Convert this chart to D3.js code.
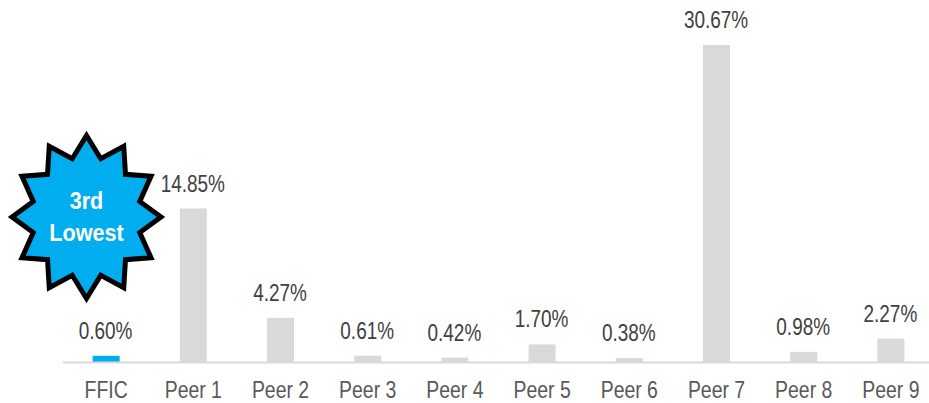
<!DOCTYPE html>
<html>
<head>
<meta charset="utf-8">
<script src="https://cdn.jsdelivr.net/npm/d3@7"></script>
<style>
  html, body { margin: 0; padding: 0; background: #fff; }
  svg { display: block; }
  text { font-family: "Liberation Sans", Arial, sans-serif; }
</style>
</head>
<body>
<svg id="chart" width="929" height="403"></svg>
<script>
const categories = ["FFIC", "Peer 1", "Peer 2", "Peer 3", "Peer 4", "Peer 5", "Peer 6", "Peer 7", "Peer 8", "Peer 9"];
const values = [0.60, 14.85, 4.27, 0.61, 0.42, 1.70, 0.38, 30.67, 0.98, 2.27];
const badgeLines = ["3rd", "Lowest"];

const svg = d3.select("#chart");
const baseline = 362;

const x = d3.scaleBand()
  .domain(categories)
  .range([62.5, 934.5])
  .paddingInner(0.69)
  .paddingOuter(0.345);

const y = d3.scaleLinear()
  .domain([0, 30.67])
  .range([baseline, 45]);

const center = (d) => x(d) + x.bandwidth() / 2;

// squeezed type, the reference text is narrower than plain Arial
function squeezedText(sel, squeeze, cx, cy) {
  sel.attr("text-anchor", "middle")
    .attr("transform", (d, i) => `translate(${cx(d, i)},${cy(d, i)}) scale(${squeeze},1)`);
}

svg.selectAll("rect.bar")
  .data(categories)
  .join("rect")
  .attr("class", "bar")
  .attr("x", (d) => x(d))
  .attr("width", x.bandwidth())
  .attr("y", (d, i) => y(values[i]))
  .attr("height", (d, i) => baseline - y(values[i]))
  .attr("fill", (d, i) => (i === 0 ? "#00aeef" : "#d9d9d9"));

svg.append("line")
  .attr("x1", 63)
  .attr("x2", 929)
  .attr("y1", baseline + 0.5)
  .attr("y2", baseline + 0.5)
  .attr("stroke", "#d9d9d9")
  .attr("stroke-width", 2);

svg.selectAll("text.value")
  .data(values)
  .join("text")
  .attr("class", "value")
  .attr("font-size", 24)
  .attr("fill", "#404040")
  .text((d) => d.toFixed(2) + "%")
  .call(squeezedText, 0.79, (d, i) => center(categories[i]) - 0.5, (d) => y(d) - 17);

svg.selectAll("text.category")
  .data(categories)
  .join("text")
  .attr("class", "category")
  .attr("font-size", 24)
  .attr("fill", "#595959")
  .text((d) => d)
  .call(squeezedText, 0.81, (d) => center(d), () => 398);

// badge
const points = 12;
const starX = 86.5;
const starY = 217;
const star = [];
for (let i = 0; i < points * 2; i++) {
  const a = -Math.PI / 2 + (i * Math.PI) / points;
  const k = i % 2 === 0 ? 1 : 0.74;
  star.push([starX + Math.cos(a) * 74.5 * k, starY + Math.sin(a) * 81.5 * k]);
}

svg.append("path")
  .attr("d", d3.line()(star) + "Z")
  .attr("fill", "#00aeef")
  .attr("stroke", "#000")
  .attr("stroke-width", 5)
  .attr("stroke-linejoin", "miter")
  .attr("stroke-miterlimit", 10);

svg.selectAll("text.badge")
  .data(badgeLines)
  .join("text")
  .attr("class", "badge")
  .attr("font-size", 24)
  .attr("font-weight", "bold")
  .attr("fill", "#fff")
  .text((d) => d)
  .call(squeezedText, 0.9, () => starX, (d, i) => 209 + i * 32);
</script>
</body>
</html>
